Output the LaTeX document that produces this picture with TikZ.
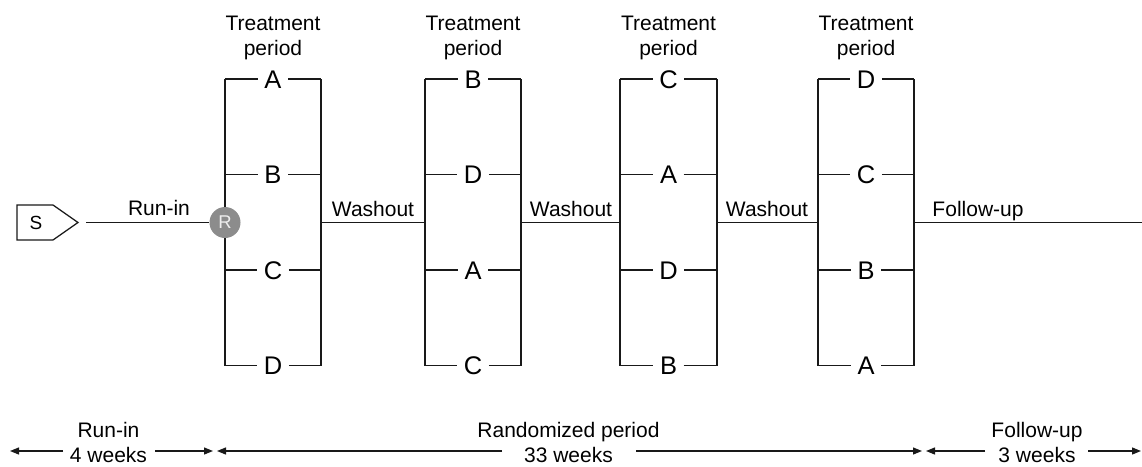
\documentclass[tikz,border=0pt]{standalone}
\usepackage{fontspec}
\setmainfont{Liberation Sans}
\usetikzlibrary{arrows.meta}
\definecolor{rgray}{HTML}{8C8C8C}
\definecolor{rtext}{HTML}{EEEEEE}
\begin{document}
\begin{tikzpicture}[x=1pt,y=-1pt,
  line/.style={line width=1.25pt, draw=black!90},
  lbl/.style={font=\fontsize{21}{25}\selectfont, inner sep=0pt},
  arm/.style={font=\fontsize{25.5}{30}\selectfont, inner xsep=6.5pt, inner ysep=0pt, text height=18pt, text depth=0pt},
  dim/.style={line width=1.25pt, draw=black!90, -{Triangle[length=9pt,width=7pt]}},
]
\useasboundingbox (0,0) rectangle (1142,466);

% start box
\draw[line] (17,205) -- (53,205) -- (78,222.5) -- (53,240) -- (17,240) -- cycle;
\node[font=\fontsize{19}{20}\selectfont, inner sep=0pt] (S) at (36,222.5) {S};
\coordinate (rinStart) at (86,222.5);

% groups
\foreach \g/\xl/\xr/\a/\b/\c/\d in {1/225/321/A/B/C/D, 2/425/521/B/D/A/C, 3/620/717/C/A/D/B, 4/818/914/D/C/B/A}{
  \node[lbl, align=center] (tp\g) at ({(\xl+\xr)/2},37.5) {Treatment\\period};
  \foreach \r/\y/\t in {1/79/\a, 2/174.5/\b, 3/270/\c, 4/365.5/\d}{
    \coordinate (g\g L\r) at (\xl,\y);
    \coordinate (g\g R\r) at (\xr,\y);
    \node[arm] (g\g T\r) at ({(\xl+\xr)/2},\y) {\t};
    \draw[line] (g\g L\r) -- (g\g T\r) -- (g\g R\r);
  }
  \draw[line] (g\g L1) -- (g\g L4);
  \draw[line] (g\g R1) -- (g\g R4);
  \coordinate (g\g in) at (\xl,222.5);
  \coordinate (g\g out) at (\xr,222.5);
}

% randomisation
\node[circle, fill=rgray, text=rtext, minimum size=31pt, inner sep=0pt,
      font=\fontsize{18.5}{20}\selectfont] (R) at (225,222.5) {R};
\draw[line] (rinStart) -- (R);
\coordinate (lineEnd) at (1142,222.5);
\draw[line] (g1out) -- (g2in);
\draw[line] (g2out) -- (g3in);
\draw[line] (g3out) -- (g4in);
\draw[line] (g4out) -- (lineEnd);

% phase labels
\node[lbl, anchor=base] (lRun) at (159,215) {Run-in};
\node[lbl, anchor=base] (lW1) at (373,216) {Washout};
\node[lbl, anchor=base] (lW2) at (571,216) {Washout};
\node[lbl, anchor=base] (lW3) at (767,216) {Washout};
\node[lbl, anchor=base] (lFol) at (978,216) {Follow-up};

% bottom duration arrows
\node[lbl, align=center] (b1) at (108.5,442.5) {Run-in\\4 weeks};
\node[lbl, align=center] (b2) at (568.5,442.5) {Randomized period\\33 weeks};
\node[lbl, align=center] (b3) at (1037,442.5) {Follow-up\\3 weeks};

\coordinate (a1L) at (10,451);  \coordinate (a1gl) at (63,451);
\coordinate (a1gr) at (155,451); \coordinate (a1R) at (213,451);
\coordinate (a2L) at (217,451); \coordinate (a2gl) at (502,451);
\coordinate (a2gr) at (636,451); \coordinate (a2R) at (922,451);
\coordinate (a3L) at (926,451); \coordinate (a3gl) at (985,451);
\coordinate (a3gr) at (1088,451); \coordinate (a3R) at (1141,451);
\draw[dim] (a1gl) -- (a1L);
\draw[dim] (a1gr) -- (a1R);
\draw[dim] (a2gl) -- (a2L);
\draw[dim] (a2gr) -- (a2R);
\draw[dim] (a3gl) -- (a3L);
\draw[dim] (a3gr) -- (a3R);
\end{tikzpicture}
\end{document}
